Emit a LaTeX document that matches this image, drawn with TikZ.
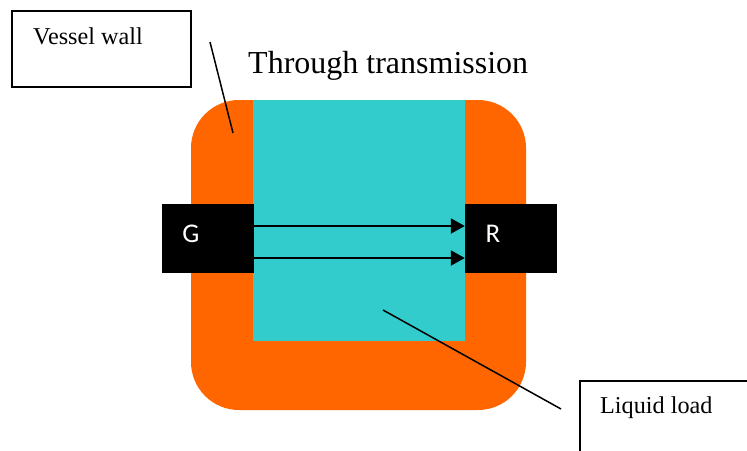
\documentclass[tikz,border=0pt]{standalone}
\usepackage{fontspec}
\setmainfont{Liberation Serif}
\newfontfamily\labelsans{Carlito}
\usetikzlibrary{arrows.meta}
\definecolor{wallorange}{HTML}{FF6600}
\definecolor{liquidcyan}{HTML}{33CCCC}
\tikzset{
  calloutbox/.style={draw=black, line width=1.5pt, fill=white, inner sep=0pt},
  transducer/.style={fill=black, inner sep=0pt, minimum width=92pt, minimum height=69pt},
  tdlabel/.style={text=white, font=\labelsans\fontsize{27}{32}\selectfont, inner sep=0pt},
  calloutline/.style={line width=1.5pt},
  beam/.style={line width=2pt, -{Triangle[length=14pt,width=15pt]}},
  labeltext/.style={font=\fontsize{24.2}{28}\selectfont, inner sep=0pt, anchor=base west}
}
\begin{document}
\begin{tikzpicture}[x=1pt,y=-1pt]
  \clip (0,0) rectangle (747,450);
  \fill[white] (0,0) rectangle (747,450);

  % vessel wall and liquid inside
  \path[fill=wallorange, rounded corners=48pt] (191,100) rectangle (526,410);
  \node[fill=liquidcyan, inner sep=0pt, minimum width=212pt, minimum height=241pt] (liquid) at (359,220.5) {};

  % transducers
  \node[transducer] (G) at (208,238.5) {};
  \node[transducer] (R) at (511,238.5) {};
  \node[tdlabel] (Glabel) at (191,233.5) {G};
  \node[tdlabel] (Rlabel) at (493,233.5) {R};

  % beams from transmitter to receiver
  \draw[beam] ([yshift=12.5pt]G.east) -- ([yshift=12.5pt]R.west);
  \draw[beam] ([yshift=-19.5pt]G.east) -- ([yshift=-19.5pt]R.west);

  % title
  \node[font=\fontsize{32}{38}\selectfont, inner sep=0pt, anchor=base west] (title) at (248,73) {Through transmission};

  % callout: vessel wall
  \node[calloutbox, minimum width=179pt, minimum height=76pt] (vwbox) at (101.5,49) {};
  \node[labeltext] (vwtext) at (33,44) {Vessel wall};
  \coordinate (vwstart) at (210,42);
  \coordinate (vwend) at (233,133);
  \draw[calloutline] (vwstart) -- (vwend);

  % callout: liquid load
  \node[calloutbox, minimum width=200pt, minimum height=100pt, anchor=north west] (llbox) at (579,380) {};
  \node[labeltext] (lltext) at (600,413) {Liquid load};
  \coordinate (llstart) at (383,310);
  \coordinate (llend) at (561,409);
  \draw[calloutline] (llstart) -- (llend);
\end{tikzpicture}
\end{document}
